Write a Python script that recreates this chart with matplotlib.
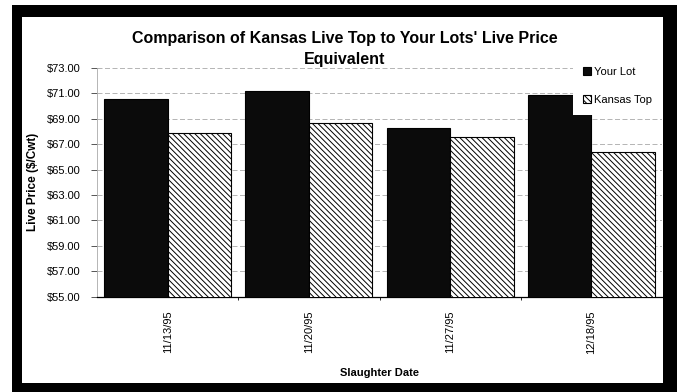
import matplotlib
matplotlib.use("Agg")
import matplotlib.pyplot as plt
from matplotlib.patches import Rectangle
from matplotlib.ticker import FuncFormatter, FixedLocator
import numpy as np

plt.rcParams['font.family'] = ['Liberation Sans', 'DejaVu Sans']
plt.rcParams['hatch.linewidth'] = 0.7

# Chart data
dates = ["11/13/95", "11/20/95", "11/27/95", "12/18/95"]
your_lot = [70.55, 71.20, 68.25, 70.85]
kansas_top = [67.85, 68.70, 67.55, 66.40]
series_names = ["Your Lot", "Kansas Top"]
price_ticks = [55, 57, 59, 61, 63, 65, 67, 69, 71, 73]

W, H = 677, 392
fig = plt.figure(figsize=(W / 100, H / 100), dpi=100)
fig.patch.set_facecolor("white")

# Heavy black frame around the chart area
fig.add_artist(Rectangle((12 / W, 0), 1 - 12 / W, (H - 5) / H,
                         transform=fig.transFigure, facecolor="black",
                         edgecolor="none", zorder=-2))
fig.add_artist(Rectangle((22 / W, 1 - 383 / H), (663 - 22) / W, (383 - 17) / H,
                         transform=fig.transFigure, facecolor="white",
                         edgecolor="none", zorder=-1))

ax = fig.add_axes([97 / W, 1 - 296.5 / H, 565 / W, 228.5 / H])
ax.set_facecolor("none")

x = np.arange(len(dates))
bw = 0.45
ax.bar(x - bw / 2, your_lot, width=bw, color="#0b0b0b", edgecolor="black",
       linewidth=0.8, label=series_names[0], zorder=3)
ax.bar(x + bw / 2, kansas_top, width=bw, color="white", edgecolor="black",
       hatch="\\" * 6, linewidth=0.8, label=series_names[1], zorder=3)

ax.set_ylim(price_ticks[0], price_ticks[-1])
ax.set_xlim(-0.5, len(dates) - 0.5)
ax.yaxis.set_major_locator(FixedLocator(price_ticks))
ax.yaxis.set_major_formatter(FuncFormatter(lambda v, p: f"${v:.2f}"))
ax.grid(axis="y", color="#a8a8a8", linestyle=(0, (6, 3)), linewidth=0.6, zorder=1)

ax.set_xticks(x)
ax.set_xticklabels(dates, rotation=90, fontsize=8)
ax.xaxis.set_minor_locator(FixedLocator(x[:-1] + 0.5))
ax.tick_params(axis="x", which="major", length=0, pad=10)
ax.tick_params(axis="x", which="minor", length=2, width=0.6)
ax.tick_params(axis="y", length=4, width=0.7, labelsize=8, pad=8, color="#555555")

for s in ("top", "right"):
    ax.spines[s].set_visible(False)
ax.spines["left"].set_color("#aaaaaa")
ax.spines["left"].set_linewidth(0.6)
ax.spines["bottom"].set_linewidth(0.9)

ax.set_ylabel("Live Price ($/Cwt)", fontsize=8.5, fontweight="bold")
ax.yaxis.label.set_verticalalignment("center")
ax.yaxis.set_label_coords((33 - 97) / 565, 0.5)
ax.set_xlabel("Slaughter Date", fontsize=8, fontweight="bold")
ax.xaxis.set_label_coords(0.5, -(368 - 296.5) / 228.5)

fig.text(345 / W, 1 - 49 / H,
         "Comparison of Kansas Live Top to Your Lots' Live Price\nEquivalent",
         ha="center", va="center", fontsize=11.5, fontweight="bold",
         linespacing=1.45)

leg = fig.legend(loc="upper right", bbox_to_anchor=(662 / W, 1 - 57 / H),
                 fontsize=8, frameon=True, fancybox=False, handlelength=0.7,
                 handleheight=0.7, handletextpad=0.3, labelspacing=1.6,
                 borderpad=0.9, borderaxespad=0)
leg.get_frame().set_facecolor("white")
leg.get_frame().set_edgecolor("none")
leg.get_frame().set_alpha(1)
leg.set_zorder(10)

fig.savefig("out.png", dpi=100)
